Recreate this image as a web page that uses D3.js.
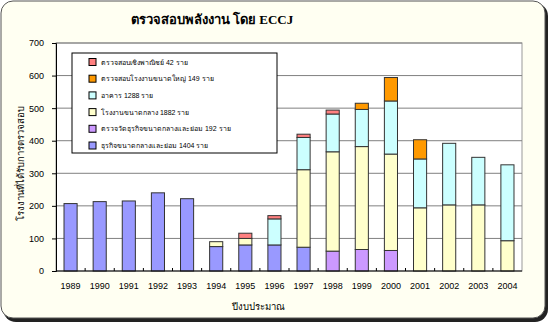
<!DOCTYPE html>
<html><head><meta charset="utf-8">
<script src="https://cdn.jsdelivr.net/npm/d3@7"></script>
<style>body{margin:0;background:#fff}svg{display:block}</style>
</head><body>
<svg id="c" width="550" height="324"></svg>
<script>
const years = ["1989","1990","1991","1992","1993","1994","1995","1996","1997","1998","1999","2000","2001","2002","2003","2004"];
const smeAudit   = [207,213,215,240,222,75,80,80,73,0,0,0,0,0,0,0];
const smeMeasure = [0,0,0,0,0,0,0,0,0,61,66,63,0,0,0,0];
const midFactory = [0,0,0,0,0,15,20,0,238,305,316,296,194,203,203,93];
const building   = [0,0,0,0,0,0,0,80,99,116,114,163,150,189,146,233];
const bigFactory = [0,0,0,0,0,0,0,0,0,0,19,72,59,0,0,0];
const commercial = [0,0,0,0,0,0,16,10,10,12,0,0,0,0,0,0];
const seriesNames = [
  "ธุรกิจขนาดกลางและย่อม 1404 ราย",
  "ตรวจวัดธุรกิจขนาดกลางและย่อม 192 ราย",
  "โรงงานขนาดกลาง 1882 ราย",
  "อาคาร 1288 ราย",
  "ตรวจสอบโรงงานขนาดใหญ่ 149 ราย",
  "ตรวจสอบเชิงพาณิชย์ 42 ราย"
];
const seriesColors = ["#9999ff","#cc99ff","#ffffcc","#ccffff","#ff9900","#ff8080"];
const yTicks = [0,100,200,300,400,500,600,700];
const title = "ตรวจสอบพลังงาน โดย ECCJ";
const yTitle = "โรงงานที่ได้รับการตรวจสอบ";
const xTitle = "ปีงบประมาณ";

const svg = d3.select("#c");
// frame
svg.append("rect").attr("x",3).attr("y",3).attr("width",545).attr("height",319).attr("rx",13).attr("fill","#222");
svg.append("rect").attr("x",1).attr("y",1).attr("width",544).attr("height",317).attr("rx",12)
  .attr("fill","#fffff2").attr("stroke","#555").attr("stroke-width",1);

const L=56,R=522,T=43,B=271;
const x = d3.scaleBand().domain(years).range([L,R]).paddingInner(0.55).paddingOuter(0.275);
const y = d3.scaleLinear().domain([0,700]).range([B,T]);

svg.append("rect").attr("x",L).attr("y",T).attr("width",R-L).attr("height",B-T)
  .attr("fill","#fff").attr("stroke","#999").attr("stroke-width",1);

// grid
svg.append("g").selectAll("line").data(yTicks.slice(1)).join("line")
  .attr("x1",L).attr("x2",R).attr("y1",d=>y(d)).attr("y2",d=>y(d))
  .attr("stroke","#808080").attr("stroke-width",1);

// stack
const all = [smeAudit,smeMeasure,midFactory,building,bigFactory,commercial];
const rows = years.map((yr,i)=>{const o={year:yr}; all.forEach((s,k)=>o["s"+k]=s[i]); return o;});
const stack = d3.stack().keys(all.map((_,k)=>"s"+k))(rows);
svg.append("g").selectAll("g").data(stack).join("g")
  .attr("fill",(d,k)=>seriesColors[k])
  .selectAll("rect").data(d=>d.filter(p=>p[1]-p[0]>0)).join("rect")
  .attr("x",d=>x(d.data.year)).attr("width",x.bandwidth())
  .attr("y",d=>y(d[1])).attr("height",d=>y(d[0])-y(d[1]))
  .attr("stroke","#333").attr("stroke-width",1);

// axes
const ya = d3.axisLeft(y).tickValues(yTicks).tickSize(4).tickPadding(8);
const gy = svg.append("g").attr("transform",`translate(${L},0)`).call(ya);
gy.select(".domain").attr("stroke","#000");
gy.selectAll("text").attr("font-family","Arial, 'Liberation Sans', sans-serif").attr("font-size",9).attr("fill","#000");

const gx = svg.append("g").attr("transform",`translate(0,${B})`)
  .call(d3.axisBottom(x).tickSize(0).tickPadding(12));
gx.select(".domain").remove();
gx.selectAll("text").attr("font-family","Arial, 'Liberation Sans', sans-serif").attr("font-size",9).attr("fill","#000");
svg.append("line").attr("x1",L).attr("x2",R).attr("y1",B).attr("y2",B).attr("stroke","#000");
// small ticks at category boundaries
const bounds = years.slice(1).map(d=>x(d)-x.step()*x.paddingInner()/2);
svg.append("g").selectAll("line").data(bounds).join("line")
  .attr("x1",d=>d).attr("x2",d=>d).attr("y1",B).attr("y2",B-3).attr("stroke","#000");

// titles
svg.append("text").attr("x",212).attr("y",24).attr("text-anchor","middle")
  .attr("font-family","'Liberation Serif', 'Noto Serif', serif").attr("font-weight","bold").attr("font-size",13).text(title);
svg.append("text").attr("transform",`translate(24,163) rotate(-90)`).attr("text-anchor","middle")
  .attr("font-family","'Liberation Sans', sans-serif").attr("font-size",9.5).text(yTitle);
svg.append("text").attr("x",258).attr("y",310).attr("text-anchor","middle")
  .attr("font-family","'Liberation Sans', sans-serif").attr("font-size",9.5).text(xTitle);

// legend
const lg = svg.append("g");
lg.append("rect").attr("x",72).attr("y",53).attr("width",205).attr("height",100)
  .attr("fill","#fff").attr("stroke","#000");
const order = [5,4,3,2,1,0];
order.forEach((k,i)=>{
  const yy = 62+i*16.7;
  lg.append("rect").attr("x",89).attr("y",yy-3.5).attr("width",7).attr("height",7)
    .attr("fill",seriesColors[k]).attr("stroke","#000");
  lg.append("text").attr("x",101).attr("y",yy+2.5).attr("font-family","'Liberation Sans', sans-serif")
    .attr("font-size",7).text(seriesNames[k]);
});
</script>
</body></html>
